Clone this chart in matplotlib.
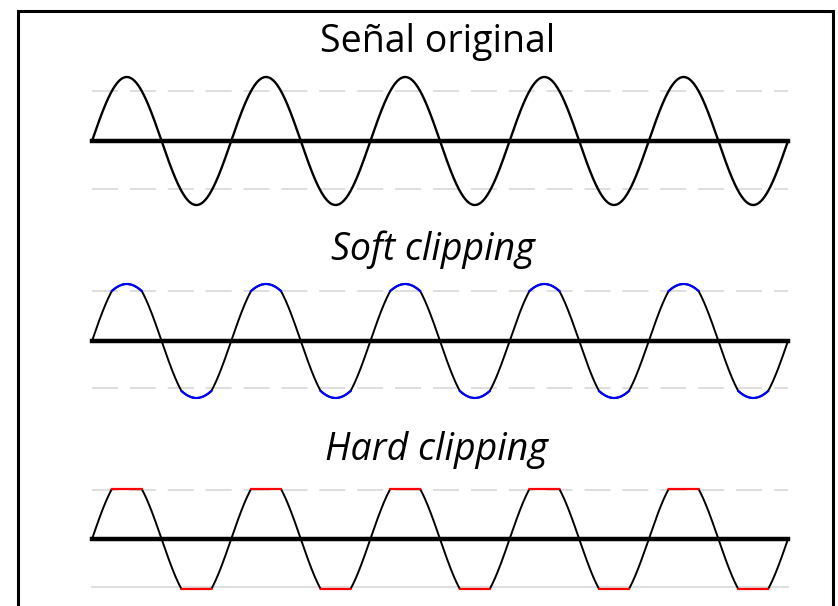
import numpy as np
import matplotlib.pyplot as plt

# Parametros de la senal (en pixeles de la figura)
n_cycles = 5
x_start, x_end = 92, 788
amplitude = 64          # amplitud de la senal original
threshold = 50          # nivel de recorte (lineas discontinuas)
soft_ratio = 0.5        # compresion por encima del umbral (soft clipping)

titles = ['Señal original', 'Soft clipping', 'Hard clipping']
title_y = [42, 250, 450]
title_x = [438, 433, 436]
title_style = ['normal', 'italic', 'italic']
axis_y = [141, 341, 539]
guide_levels = [(91, 189), (291, 388), (490, 587)]

fig = plt.figure(figsize=(8.38, 6.06), dpi=100)
ax = fig.add_axes([0, 0, 1, 1])
ax.set_xlim(0, 838)
ax.set_ylim(606, 0)
ax.axis('off')

# Marco
ax.plot([18, 18, 833, 833], [606, 11, 11, 606], color='black', lw=2.2,
        solid_joinstyle='miter')

t = np.linspace(0, 1, 4000)
x = x_start + (x_end - x_start) * t
s = amplitude * np.sin(2 * np.pi * n_cycles * t)

over = np.abs(s) > threshold
soft = np.where(over, np.sign(s) * (threshold + soft_ratio * (np.abs(s) - threshold)), s)
hard = np.clip(s, -threshold, threshold)

signals = [s, soft, hard]
clip_colors = [None, '#0000ff', '#ff0000']

for i in range(3):
    y0 = axis_y[i]
    up, down = guide_levels[i]
    # lineas guia
    ax.plot([x_start, x_end], [up, up], color='#d4d4d4', lw=1.1,
            dashes=(17, 7.8))
    if i == 2:
        ax.plot([x_start, x_end], [down, down], color='#d4d4d4', lw=1.1)
    else:
        ax.plot([x_start, x_end], [down, down], color='#d4d4d4', lw=1.1,
                dashes=(17, 7.8))
    # eje
    ax.plot([x_start, x_end], [y0, y0], color='black', lw=3.2)

    sig = signals[i]
    ax.plot(x, y0 - sig, color='black', lw=1.7 if i == 0 else 1.4)
    if clip_colors[i] is not None:
        clipped = np.where(over, y0 - sig, np.nan)
        ax.plot(x, clipped, color=clip_colors[i], lw=1.6)

    ax.text(title_x[i], title_y[i], titles[i], ha='center',
            va='center', fontsize=27, style=title_style[i],
            family=['Open Sans', 'DejaVu Sans'])

fig.savefig('out.png', dpi=100)
